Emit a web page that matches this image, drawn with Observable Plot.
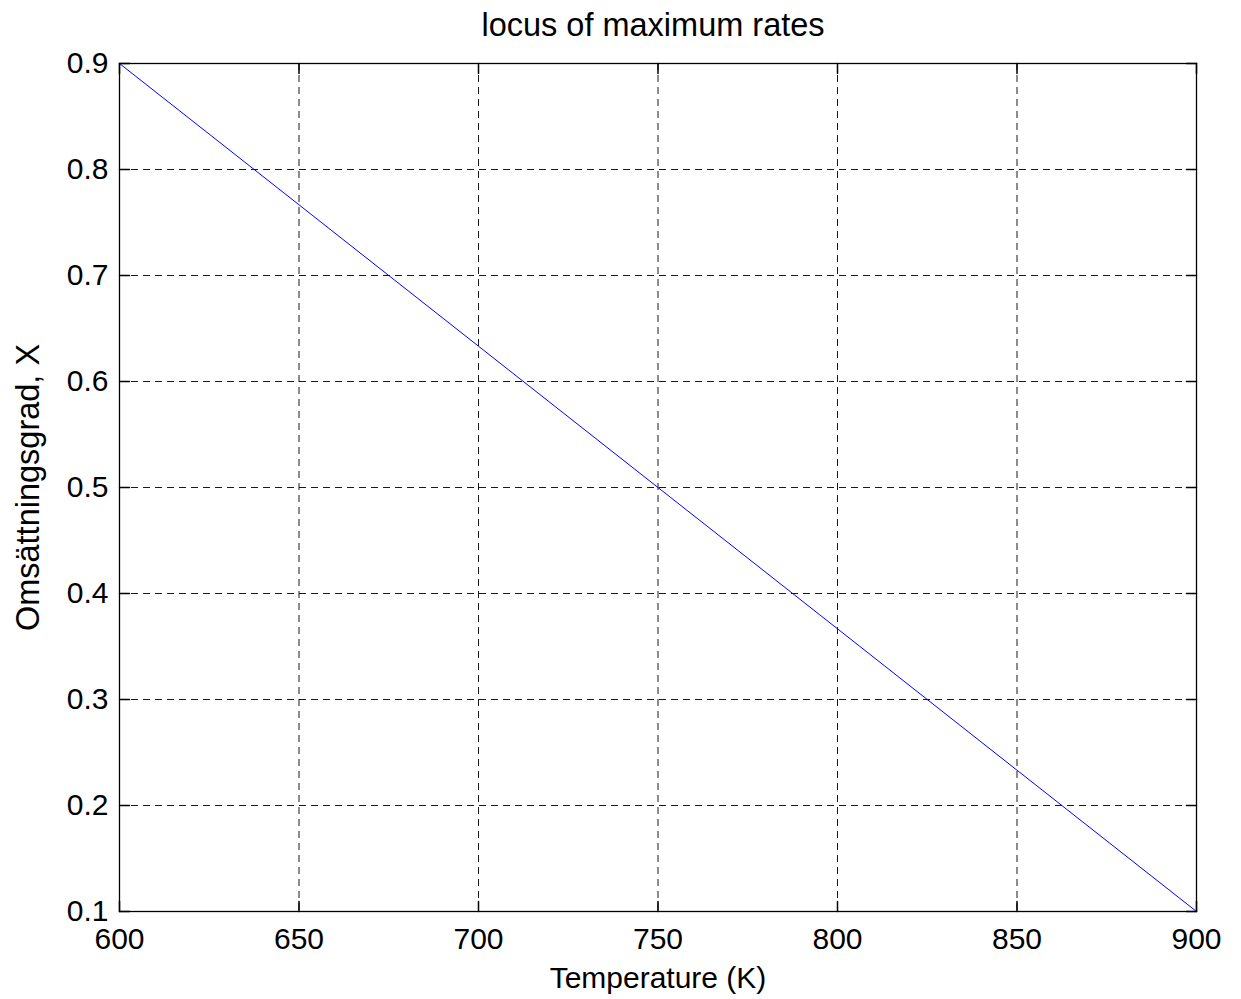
<!DOCTYPE html>
<html>
<head>
<meta charset="utf-8">
<script src="https://cdn.jsdelivr.net/npm/d3@7"></script>
<script src="https://cdn.jsdelivr.net/npm/@observablehq/plot@0.6"></script>
<style>
  html, body { margin: 0; padding: 0; background: #fff; }
  #chart svg { display: block; }
</style>
</head>
<body>
<div id="chart"></div>
<script>
const title = "locus of maximum rates";
const xLabel = "Temperature (K)";
const yLabel = "Omsättningsgrad, X";
const temperature = [600, 650, 700, 750, 800, 850, 900];
const conversion = [0.9, 0.7667, 0.6333, 0.5, 0.3667, 0.2333, 0.1];
const xTicks = [600, 650, 700, 750, 800, 850, 900];
const yTicks = [0.1, 0.2, 0.3, 0.4, 0.5, 0.6, 0.7, 0.8, 0.9];

const data = temperature.map((t, i) => ({t, x: conversion[i]}));
const font = "'Liberation Sans', Arial, Helvetica, sans-serif";
const tickShape = {draw(ctx, l) { ctx.moveTo(0, 0); ctx.lineTo(0, -l); }};

const chart = Plot.plot({
  width: 1241,
  height: 999,
  marginLeft: 119,
  marginRight: 45,
  marginTop: 63,
  marginBottom: 88,
  style: {fontFamily: font, background: "#fff", color: "#000"},
  x: {domain: [600, 900]},
  y: {domain: [0.1, 0.9]},
  marks: [
    Plot.gridX(xTicks.slice(1, -1), {stroke: "#000", strokeOpacity: 0.9, strokeDasharray: "7,5", strokeWidth: 1}),
    Plot.gridY(yTicks.slice(1, -1), {stroke: "#000", strokeOpacity: 0.9, strokeDasharray: "7,5", strokeWidth: 1}),
    Plot.vector(xTicks, {x: d => d, frameAnchor: "bottom", length: 10, anchor: "start", rotate: 0, shape: tickShape, stroke: "#000"}),
    Plot.vector(xTicks, {x: d => d, frameAnchor: "top", length: 10, anchor: "start", rotate: 180, shape: tickShape, stroke: "#000"}),
    Plot.vector(yTicks, {y: d => d, frameAnchor: "left", length: 10, anchor: "start", rotate: 90, shape: tickShape, stroke: "#000"}),
    Plot.vector(yTicks, {y: d => d, frameAnchor: "right", length: 10, anchor: "start", rotate: -90, shape: tickShape, stroke: "#000"}),
    Plot.line(data, {x: "t", y: "x", stroke: "#0000ff", strokeWidth: 1}),
    Plot.frame({stroke: "#000", strokeWidth: 1.3}),
    Plot.axisX(xTicks, {tickSize: 0, tickPadding: 16, fontSize: 30, label: null, tickFormat: d => String(d)}),
    Plot.axisY(yTicks, {tickSize: 0, tickPadding: 11, fontSize: 30, label: null, tickFormat: d => d.toFixed(1)}),
    Plot.text([title], {frameAnchor: "top", dx: -5, dy: -28, lineAnchor: "bottom", fontSize: 32.5, fill: "#000"}),
    Plot.text([xLabel], {frameAnchor: "bottom", dy: 76, lineAnchor: "bottom", fontSize: 30, fill: "#000"}),
    Plot.text([yLabel], {frameAnchor: "left", dx: -81, rotate: -90, lineAnchor: "bottom", textAnchor: "middle", fontSize: 32.5, fill: "#000"})
  ]
});
document.getElementById("chart").append(chart);
</script>
</body>
</html>
